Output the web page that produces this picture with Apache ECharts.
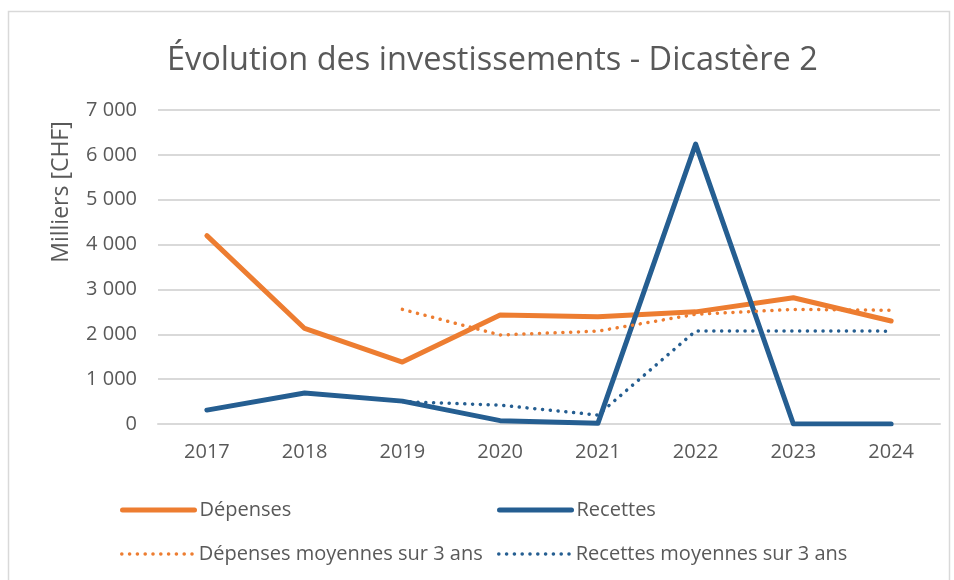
<!DOCTYPE html>
<html>
<head>
<meta charset="utf-8">
<script src="https://cdn.jsdelivr.net/npm/echarts@6/dist/echarts.min.js"></script>
<style>
    html, body { margin: 0; padding: 0; background: #fff; }
    #chart { width: 954px; height: 580px; }
</style>
</head>
<body>
<div id="chart"></div>
<script>
    // valeurs (milliers CHF)
    const annees = ['2017', '2018', '2019', '2020', '2021', '2022', '2023', '2024'];
    const depenses = [4200, 2130, 1380, 2430, 2390, 2500, 2815, 2295];
    const recettes = [310, 690, 510, 75, 15, 6240, 0, 0];
    const depensesMoy = [null, null, 2555, 1985, 2070, 2445, 2555, 2535];
    const recettesMoy = [null, null, 500, 420, 200, 2075, 2075, 2070];

    const orange = '#ED7D31';
    const bleu = '#255E91';
    const gris = '#595959';
    const police = 'Open Sans';
    const pointille = [0.1, 7.7];

    const chart = echarts.init(document.getElementById('chart'));

    function legende(nom, left, top, epaisseur) {
        return {
            data: [nom],
            left: left,
            top: top,
            itemWidth: 72,
            itemHeight: 14,
            itemGap: 6,
            itemStyle: {opacity: 0},
            lineStyle: {width: epaisseur, cap: 'round'},
            textStyle: {fontFamily: police, fontSize: 20, color: gris},
            selectedMode: false
        };
    }

    const option = {
        backgroundColor: '#fff',
        animation: false,
        title: {
            text: 'Évolution des investissements - Dicastère 2',
            left: 162,
            top: 39,
            textStyle: {fontFamily: police, fontSize: 32.5, fontWeight: 'normal', color: gris}
        },
        graphic: [
            {
                type: 'rect',
                shape: {x: 8.5, y: 11.5, width: 941, height: 600},
                style: {fill: 'none', stroke: '#d9d9d9', lineWidth: 1.5},
                silent: true
            },
            {
                type: 'text',
                x: 61,
                y: 192,
                rotation: Math.PI / 2,
                style: {
                    text: 'Milliers [CHF]',
                    fontFamily: police,
                    fontSize: 23,
                    fill: gris,
                    align: 'center',
                    verticalAlign: 'middle'
                }
            }
        ],
        legend: [
            legende('Dépenses', 115, 495, 5),
            legende('Recettes', 492, 495, 5),
            legende('Dépenses moyennes sur 3 ans', 115, 539, 3.5),
            legende('Recettes moyennes sur 3 ans', 492, 539, 3.5)
        ],
        grid: {left: 158, right: 14, top: 110, bottom: 156},
        xAxis: {
            type: 'category',
            data: annees,
            boundaryGap: true,
            axisLine: {lineStyle: {color: '#d9d9d9', width: 2}},
            axisTick: {show: false},
            axisLabel: {fontFamily: police, fontSize: 20, color: gris, margin: 18}
        },
        yAxis: {
            type: 'value',
            min: 0,
            max: 7000,
            interval: 1000,
            axisLine: {show: false},
            axisTick: {show: false},
            splitLine: {lineStyle: {color: '#d9d9d9', width: 2}},
            axisLabel: {
                fontFamily: police,
                fontSize: 20,
                color: gris,
                margin: 21,
                formatter: v => String(v).replace(/\B(?=(\d{3})+(?!\d))/g, ' ')
            }
        },
        series: [
            {
                name: 'Dépenses',
                type: 'line',
                data: depenses,
                symbol: 'none',
                color: orange,
                lineStyle: {width: 5, color: orange, cap: 'round', join: 'round'}
            },
            {
                name: 'Recettes',
                type: 'line',
                data: recettes,
                symbol: 'none',
                color: bleu,
                lineStyle: {width: 5, color: bleu, cap: 'round', join: 'round'}
            },
            {
                name: 'Dépenses moyennes sur 3 ans',
                type: 'line',
                data: depensesMoy,
                symbol: 'none',
                color: orange,
                lineStyle: {width: 3.5, color: orange, type: pointille, cap: 'round'}
            },
            {
                name: 'Recettes moyennes sur 3 ans',
                type: 'line',
                data: recettesMoy,
                symbol: 'none',
                color: bleu,
                lineStyle: {width: 3.5, color: bleu, type: pointille, cap: 'round'}
            }
        ]
    };

    option && chart.setOption(option);
</script>
</body>
</html>
